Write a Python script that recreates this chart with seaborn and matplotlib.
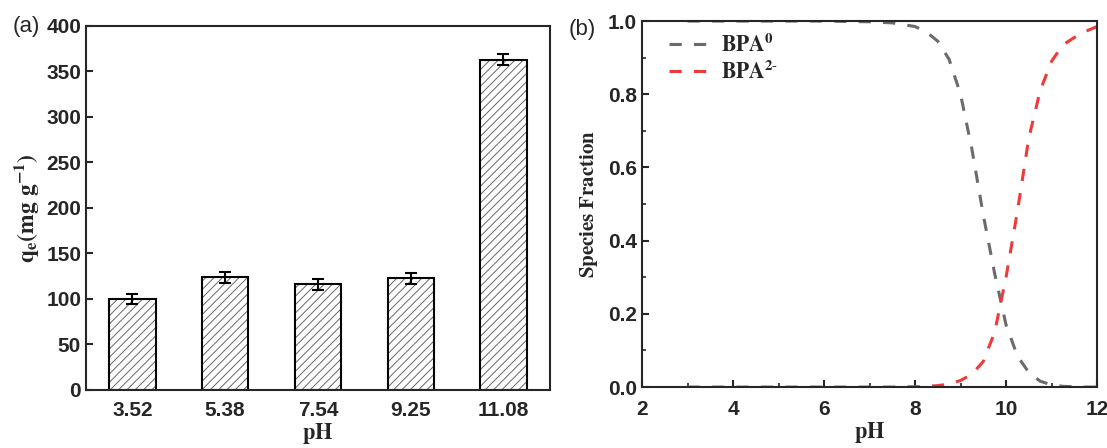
import numpy as np
import pandas as pd
import matplotlib
matplotlib.use("Agg")
import matplotlib.pyplot as plt
import seaborn as sns
from matplotlib.ticker import MultipleLocator

# panel (a): adsorption capacity at different pH
ph_labels = ["3.52", "5.38", "7.54", "9.25", "11.08"]
qe = [100, 124, 116, 123, 363]
qe_err = [6, 6, 6, 6, 6]

# panel (b): BPA species fraction vs pH
ph_b = [3, 4, 5, 6, 7, 7.5, 8, 8.25, 8.5, 8.75, 9, 9.25, 9.5, 9.75,
        10, 10.25, 10.5, 10.75, 11, 11.25, 11.5, 11.75, 12]
bpa0 = [1, 1, 1, 1, 0.998, 0.995, 0.985, 0.97, 0.945, 0.895, 0.80, 0.65,
        0.47, 0.31, 0.17, 0.085, 0.04, 0.016, 0.006, 0.002, 0.001, 0, 0]
bpa2 = [0, 0, 0, 0, 0, 0, 0.001, 0.002, 0.004, 0.008, 0.018, 0.035, 0.07,
        0.15, 0.30, 0.48, 0.68, 0.81, 0.89, 0.935, 0.955, 0.972, 0.985]

sns.set_theme(style="ticks")
plt.rcParams["font.family"] = ["Liberation Sans", "DejaVu Sans"]
plt.rcParams["mathtext.fontset"] = "stix"
plt.rcParams["hatch.linewidth"] = 0.7
plt.rcParams["axes.linewidth"] = 1.5

fig = plt.figure(figsize=(11.07, 4.48), dpi=100)
ax1 = fig.add_axes([0.0777, 0.1295, 0.419, 0.8125])
ax2 = fig.add_axes([0.580, 0.136, 0.411, 0.817])

df_a = pd.DataFrame({"pH": ph_labels, "qe": qe})
# hatch drawn in grey, outline drawn on top in black
sns.barplot(data=df_a, x="pH", y="qe", ax=ax1, color="white", width=0.5,
            edgecolor="#666666", linewidth=0, hatch="////", errorbar=None)
sns.barplot(data=df_a, x="pH", y="qe", ax=ax1, fill=False, width=0.5,
            edgecolor="black", linewidth=1.5, errorbar=None)
ax1.errorbar(range(len(qe)), qe, yerr=qe_err, fmt="none", ecolor="black",
             elinewidth=1.5, capsize=4, capthick=1.5)
ax1.set_xlim(-0.5, 4.5)
ax1.set_ylim(0, 400)
ax1.yaxis.set_major_locator(MultipleLocator(50))
ax1.tick_params(axis="y", direction="in", length=5, width=1.5, labelsize=15)
ax1.tick_params(axis="x", length=0, labelsize=15, pad=8)
for lab in ax1.get_xticklabels() + ax1.get_yticklabels():
    lab.set_fontweight("bold")
ax1.set_xlabel(r"$\mathbf{pH}$", fontsize=16, labelpad=1)
ax1.set_ylabel(r"$\mathbf{q_e(mg\ g^{-1})}$", fontsize=17, labelpad=4)
for s in ax1.spines.values():
    s.set_visible(True)
    s.set_linewidth(1.5)

df_b = pd.DataFrame({"pH": ph_b, "BPA0": bpa0, "BPA2": bpa2})
sns.lineplot(data=df_b, x="pH", y="BPA0", ax=ax2, color="#6b6b6b",
             linewidth=2.2, linestyle=(0, (4, 4)),
             label=r"$\mathbf{BPA}^{\mathbf{0}}$")
sns.lineplot(data=df_b, x="pH", y="BPA2", ax=ax2, color="#ee3a3a",
             linewidth=2.2, linestyle=(0, (4, 4)),
             label=r"$\mathbf{BPA}^{\mathbf{2\text{-}}}$")
ax2.set_xlim(2, 12)
ax2.set_ylim(0, 1.0)
ax2.xaxis.set_major_locator(MultipleLocator(2))
ax2.xaxis.set_minor_locator(MultipleLocator(1))
ax2.yaxis.set_major_locator(MultipleLocator(0.2))
ax2.yaxis.set_minor_locator(MultipleLocator(0.1))
ax2.yaxis.set_major_formatter(matplotlib.ticker.FormatStrFormatter("%.1f"))
ax2.tick_params(which="major", direction="in", length=5, width=1.5, labelsize=15)
ax2.tick_params(which="minor", direction="in", length=3, width=1.2)
ax2.tick_params(axis="x", which="major", pad=9)
for lab in ax2.get_xticklabels() + ax2.get_yticklabels():
    lab.set_fontweight("bold")
ax2.set_xlabel(r"$\mathbf{pH}$", fontsize=16, labelpad=1)
ax2.set_ylabel(r"$\mathbf{Species\ Fraction}$", fontsize=15, labelpad=6)
for s in ax2.spines.values():
    s.set_visible(True)
    s.set_linewidth(1.5)
ax2.legend(loc="upper left", bbox_to_anchor=(0.04, 0.99), frameon=False,
           fontsize=15.5, handlelength=1.8, borderaxespad=0,
           labelspacing=0.2, handletextpad=0.6)

fig.text(0.011, 0.94, "(a)", fontsize=16, va="center")
fig.text(0.514, 0.935, "(b)", fontsize=16, va="center")

fig.savefig("out.png", dpi=100)
